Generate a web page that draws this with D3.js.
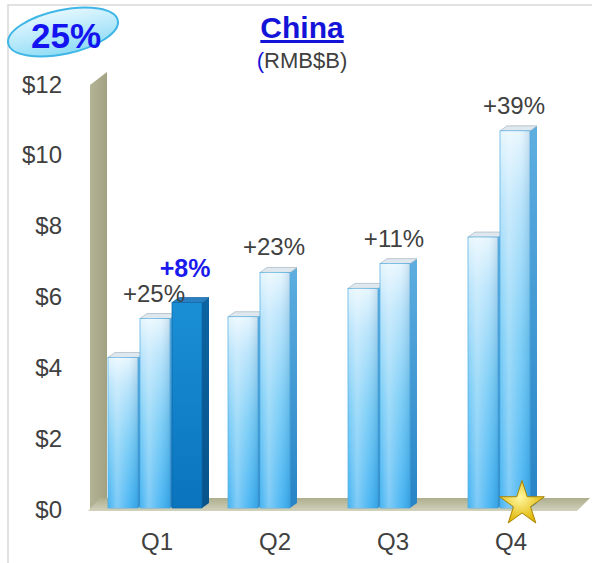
<!DOCTYPE html>
<html>
<head>
<meta charset="utf-8">
<script src="https://cdn.jsdelivr.net/npm/d3@7"></script>
<style>
  body { margin: 0; background: #ffffff; }
  svg { display: block; font-family: "Liberation Sans", Arial, sans-serif; }
</style>
</head>
<body>
<svg id="chart" width="592" height="563"></svg>
<script>
var quarters = ["Q1", "Q2", "Q3", "Q4"];
var priorYear = [4.25, 5.4, 6.2, 7.65];
var currentYear = [5.35, 6.65, 6.9, 10.65];
var latestYear = [5.8, null, null, null];
var growthLabels = ["+25%", "+23%", "+11%", "+39%"];
var latestGrowth = ["+8%", null, null, null];
var yTicks = [0, 2, 4, 6, 8, 10, 12];

var svg = d3.select("#chart");
var depthX = 7, depthY = 5;

var x0 = d3.scaleBand().domain(quarters).range([96, 576]).paddingInner(0.2).paddingOuter(0.1);
var x1 = d3.scaleBand().domain([0, 1, 2]).range([0, x0.bandwidth()]);
var y = d3.scaleLinear().domain([0, 12]).range([508, 83]);
var barW = x1.bandwidth() - 2;

// gradients
var defs = svg.append("defs");
function vGrad(id, stops, horizontal) {
    var g = defs.append("linearGradient").attr("id", id)
        .attr("x1", 0).attr("y1", 0)
        .attr("x2", horizontal ? 1 : 0).attr("y2", horizontal ? 0 : 1);
    stops.forEach(function (s) {
        g.append("stop").attr("offset", s[0]).attr("stop-color", s[1]);
    });
}
vGrad("front", [["0%", "#e4f5fe"], ["18%", "#b4e2fb"], ["55%", "#72caf6"], ["100%", "#3aaff2"]]);
vGrad("shine", [["0%", "rgba(255,255,255,0.05)"], ["30%", "rgba(255,255,255,0.35)"], ["70%", "rgba(255,255,255,0.1)"], ["100%", "rgba(0,60,120,0.12)"]], true);
vGrad("side", [["0%", "#5eaee0"], ["100%", "#2784c6"]]);
vGrad("frontDark", [["0%", "#1a8fd6"], ["100%", "#0a74be"]]);
vGrad("sideDark", [["0%", "#0c64a2"], ["100%", "#08538a"]]);
vGrad("wall", [["0%", "#b3b396"], ["100%", "#a2a283"]], true);
vGrad("floor", [["0%", "#adad8e"], ["100%", "#d2d2bd"]]);
vGrad("oval", [["0%", "#e4f7ff"], ["100%", "#8fdcf6"]]);
var starG = defs.append("radialGradient").attr("id", "star").attr("cx", "45%").attr("cy", "40%").attr("r", "60%");
starG.append("stop").attr("offset", "0%").attr("stop-color", "#fff7a0");
starG.append("stop").attr("offset", "100%").attr("stop-color", "#e0b400");

// frame
svg.append("path")
    .attr("d", "M8,563 V5 H592")
    .attr("fill", "none")
    .attr("stroke", "#d9d9d9")
    .attr("stroke-width", 1.5);

// back wall and floor
var wallX = 90, wallW = 17;
svg.append("polygon")
    .attr("points", [[wallX, y(12) + 2], [wallX + wallW, y(12) - 11], [wallX + wallW, y(0) - 10], [wallX, y(0) + 2]].join(" "))
    .attr("fill", "url(#wall)");
svg.append("polygon")
    .attr("points", [[wallX - 2, y(0) + 3], [wallX + 10, y(0) - 10], [590, y(0) - 10], [577, y(0) + 3]].join(" "))
    .attr("fill", "url(#floor)");

// y axis labels
svg.selectAll(".ytick")
    .data(yTicks)
    .enter().append("text")
    .attr("class", "ytick")
    .attr("x", 62)
    .attr("y", function (d) { return y(d) + 1; })
    .attr("text-anchor", "end")
    .attr("dominant-baseline", "central")
    .attr("font-size", 24)
    .attr("fill", "#404040")
    .text(function (d) { return "$" + d; });

// bars
var bars = [];
quarters.forEach(function (q, i) {
    [priorYear[i], currentYear[i], latestYear[i]].forEach(function (v, j) {
        if (v != null) bars.push({ q: q, slot: j, value: v, dark: j == 2 });
    });
});

function drawBar(d) {
    var x = x0(d.q) + x1(d.slot);
    var top = y(d.value);
    var base = y(0);
    var g = svg.append("g").attr("class", "bar");

    g.append("polygon")
        .attr("points", [[x + barW, top], [x + barW + depthX, top - depthY], [x + barW + depthX, base - depthY], [x + barW, base]].join(" "))
        .attr("fill", d.dark ? "url(#sideDark)" : "url(#side)");

    g.append("polygon")
        .attr("points", [[x, top], [x + depthX, top - depthY], [x + barW + depthX, top - depthY], [x + barW, top]].join(" "))
        .attr("fill", d.dark ? "#2a80c2" : "#dfe8ee")
        .attr("stroke", d.dark ? "#1b6aa6" : "#aebcc6")
        .attr("stroke-width", 0.8)
        .attr("stroke-linejoin", "round");

    g.append("rect")
        .attr("x", x)
        .attr("y", top)
        .attr("width", barW)
        .attr("height", base - top)
        .attr("fill", d.dark ? "url(#frontDark)" : "url(#front)")
        .attr("stroke", d.dark ? "#0b64a4" : "#4aa9e0")
        .attr("stroke-width", 0.7);

    if (!d.dark) {
        g.append("rect")
            .attr("x", x)
            .attr("y", top)
            .attr("width", barW)
            .attr("height", base - top)
            .attr("fill", "url(#shine)");
    }
}
bars.forEach(drawBar);

// star on Q4
svg.append("path")
    .attr("d", d3.symbol().type(d3.symbolStar).size(620)())
    .attr("transform", "translate(" + (x0("Q4") + x1(1) + barW / 2 + 7) + "," + (y(0) - 4) + ")")
    .attr("fill", "url(#star)")
    .attr("stroke", "#a88400")
    .attr("stroke-width", 1);

// growth labels
svg.selectAll(".growth")
    .data(quarters)
    .enter().append("text")
    .attr("class", "growth")
    .attr("x", function (q) { return x0(q) + x1(1) + barW / 2 - 1; })
    .attr("y", function (q, i) { return y(currentYear[i]) - 17; })
    .attr("text-anchor", "middle")
    .attr("font-size", 24)
    .attr("fill", "#404040")
    .text(function (q, i) { return growthLabels[i]; });

quarters.forEach(function (q, i) {
    if (latestGrowth[i] == null) return;
    svg.append("text")
        .attr("x", x0(q) + x1(2) + barW / 2 - 2)
        .attr("y", y(latestYear[i]) - 26)
        .attr("text-anchor", "middle")
        .attr("font-size", 25)
        .attr("font-weight", "bold")
        .attr("fill", "#1a1aee")
        .text(latestGrowth[i]);
});

// category labels
svg.selectAll(".qlabel")
    .data(quarters)
    .enter().append("text")
    .attr("class", "qlabel")
    .attr("x", function (q, i) { return x0(q) + x0.bandwidth() / 2 + 1 - i * 2; })
    .attr("y", 550)
    .attr("text-anchor", "middle")
    .attr("font-size", 24)
    .attr("fill", "#404040")
    .text(function (q) { return q; });

// title
svg.append("text")
    .attr("x", 302)
    .attr("y", 38)
    .attr("text-anchor", "middle")
    .attr("font-size", 30)
    .attr("font-weight", "bold")
    .attr("fill", "#1414d8")
    .attr("text-decoration", "underline")
    .text("China");

var sub = svg.append("text")
    .attr("x", 302)
    .attr("y", 68)
    .attr("text-anchor", "middle")
    .attr("font-size", 22)
    .attr("fill", "#404040");
sub.append("tspan").attr("fill", "#1414d8").text("(");
sub.append("tspan").text("RMB$B)");

// 25% badge
svg.append("ellipse")
    .attr("cx", 0).attr("cy", 0)
    .attr("rx", 56).attr("ry", 22)
    .attr("transform", "translate(63,32) rotate(-12)")
    .attr("fill", "url(#oval)")
    .attr("stroke", "#3fb6e6")
    .attr("stroke-width", 2);
svg.append("text")
    .attr("x", 66)
    .attr("y", 48)
    .attr("text-anchor", "middle")
    .attr("font-size", 35)
    .attr("font-weight", "bold")
    .attr("fill", "#1414f0")
    .text("25%");
</script>
</body>
</html>
